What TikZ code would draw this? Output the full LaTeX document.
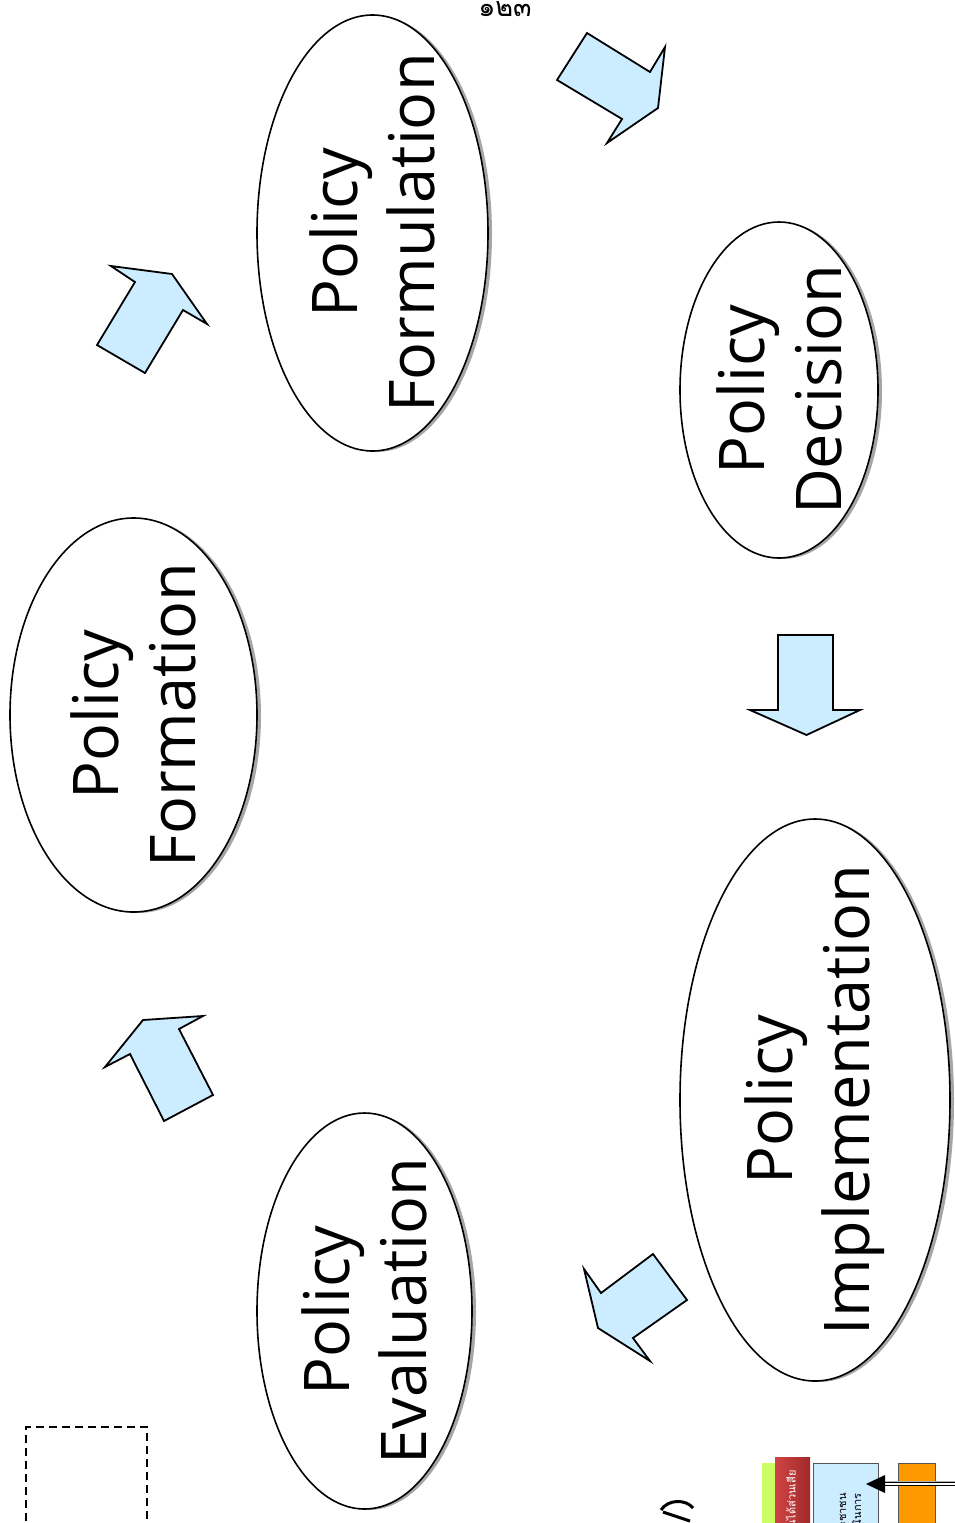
\documentclass[tikz,border=0pt]{standalone}
\usepackage{fontspec}
\setmainfont{Open Sans}
\newfontfamily\thaifont[Script=Thai]{Loma}
\usetikzlibrary{shapes.geometric,shadows,arrows.meta}
\definecolor{arrowblue}{HTML}{CCECFF}
\definecolor{lime}{HTML}{CCFF66}
\definecolor{redA}{HTML}{D04444}
\definecolor{redB}{HTML}{A02A2A}
\definecolor{orangebox}{HTML}{FF9900}
\definecolor{boxedge}{HTML}{555555}
\tikzset{
  bubble/.style={ellipse, draw=black, line width=1.6pt, fill=white, inner sep=0pt,
    general shadow={fill=gray!70, shadow xshift=4pt, shadow yshift=-1pt}},
  lbl/.style={rotate=90, align=center, font=\fontsize{63}{77}\selectfont, inner sep=0pt},
  blockarrow/.style={draw=black, line width=1.8pt, fill=arrowblue, line join=miter},
  smallbox/.style={draw=boxedge, line width=0.8pt}
}
\begin{document}
\begin{tikzpicture}[x=1pt,y=-1pt]
\useasboundingbox (0,0) rectangle (954,1523);

% page number
\node[font=\thaifont\fontsize{27}{30}\selectfont, inner sep=0pt] (pnum) at (505,9) {๑๒๓};

% ellipses
\node[bubble, minimum width=231pt, minimum height=436pt] (formul) at (372.5,233) {};
\node[lbl] (formulT) at (formul.center) {Policy\\Formulation};

\node[bubble, minimum width=198pt, minimum height=336pt] (decis) at (779,390) {};
\node[lbl] (decisT) at (decis.center) {Policy\\Decision};

\node[bubble, minimum width=247pt, minimum height=394pt] (format) at (133.5,715) {};
\node[lbl] (formatT) at (format.center) {Policy\\Formation};

\node[bubble, minimum width=270pt, minimum height=562pt] (implem) at (815,1100) {};
\node[lbl] (implemT) at (implem.center) {Policy\\Implementation};

\node[bubble, minimum width=215pt, minimum height=396pt] (evalu) at (364.5,1311) {};
\node[lbl] (evaluT) at (evalu.center) {Policy\\Evaluation};

% block arrows
\draw[blockarrow] (587,33) -- (650,72) -- (665,47) -- (658,108) -- (607,143) -- (622,119) -- (557,80) -- cycle;
\draw[blockarrow] (111,266) -- (172,274) -- (207,324) -- (183,310) -- (145,373) -- (97,345) -- (135,282) -- cycle;
\draw[blockarrow] (143,1020) -- (203,1016) -- (179,1029) -- (213,1095) -- (164,1121) -- (130,1054) -- (105,1067) -- cycle;
\draw[blockarrow] (584,1269) -- (601,1293) -- (653,1254) -- (687,1300) -- (633,1338) -- (650,1361) -- (598,1328) -- cycle;
\draw[blockarrow] (778,635) -- (833,635) -- (833,710) -- (860,710) -- (806.5,735) -- (750,710) -- (778,710) -- cycle;

% dashed frame (clipped)
\draw[line width=2pt, dash pattern=on 8pt off 5pt] (26,1560) -- (26,1427) -- (147,1427) -- (147,1560);

% clipped glyph fragment
\draw[line width=3pt] (661,1510) .. controls (668,1499) and (686,1499) .. (693,1508);
\draw[line width=3pt] (663,1512) -- (690,1521);

% clipped boxes at the bottom right
\fill[lime] (762,1463) rectangle (775,1540);
\shade[left color=redA, right color=redB] (775,1457) rectangle (810,1540);
\node[rotate=90, anchor=east, inner sep=0pt, text=white, font=\thaifont\fontsize{11}{12}\selectfont] (stake) at (792,1470) {ผู้มีส่วนได้ส่วนเสีย};
\draw[smallbox, fill=arrowblue] (813,1463) rectangle (878,1540);
\node[rotate=90, anchor=north east, align=right, inner sep=0pt, font=\thaifont\fontsize{11}{15}\selectfont] (people) at (838,1493) {ภาคประชาชน\\ผู้ดำเนินการ};
\draw[smallbox, fill=orangebox] (898,1463) rectangle (935,1540);
\coordinate (arrStart) at (960,1484);
\coordinate (arrTip) at (866,1484);
\draw[gray!60, line width=1pt, double=gray!60, double distance=1.5pt] ([yshift=1.5pt]arrStart) -- ([xshift=18pt,yshift=1.5pt]arrTip);
\draw[black, line width=1pt, double=white, double distance=1.5pt] (arrStart) -- ([xshift=18pt]arrTip);
\fill[black] (arrTip) -- ++(19,-9) -- ++(0,18) -- cycle;
\end{tikzpicture}
\end{document}
